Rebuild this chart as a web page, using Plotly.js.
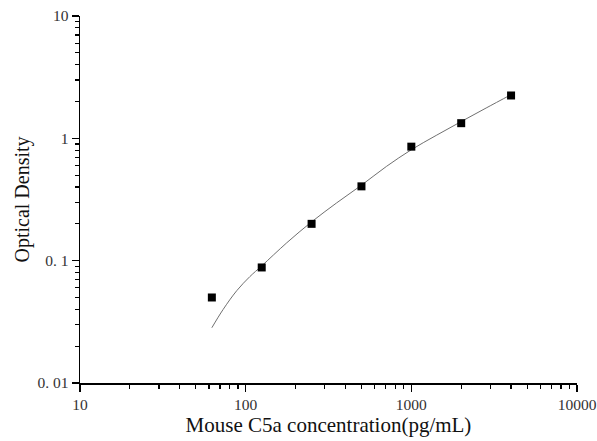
<!DOCTYPE html>
<html>
<head>
<meta charset="utf-8">
<script src="https://cdn.plot.ly/plotly-3.0.1.min.js"></script>
<style>html,body{margin:0;padding:0;background:#fff;}#chart{width:597px;height:441px;}</style>
</head>
<body>
<div id="chart"></div>
<script>
// Standard points
var concentrations = [62.5, 125, 250, 500, 1000, 2000, 4000];
var odValues = [0.050, 0.088, 0.200, 0.405, 0.855, 1.33, 2.24];

// Fitted curve
var curveX = [62.5, 73, 88.4, 106, 125, 177, 250, 354, 500, 707, 1000, 1414, 2000, 2828, 4000];
var curveY = [0.0283, 0.0398, 0.0569, 0.0741, 0.0906, 0.140, 0.2075, 0.2965, 0.414, 0.589, 0.807, 1.057, 1.371, 1.770, 2.275];

// Ticks
var xTickVals = [10, 100, 1000, 10000];
var xTickText = ['10', '100', '1000', '10000'];
var yTickVals = [0.01, 0.1, 1, 10];
var yTickText = ['0. 01', '0. 1', '1', '10'];

function minorTicks(vals) {
  var out = [];
  for (var i = 0; i < vals.length - 1; i++) {
    for (var k = 2; k <= 9; k++) out.push(vals[i] * k);
  }
  return out;
}

var font = 'Liberation Serif, Times New Roman, serif';

var traces = [
  {
    x: curveX, y: curveY, mode: 'lines', type: 'scatter',
    line: {color: '#707070', width: 1, shape: 'spline', smoothing: 1},
    hoverinfo: 'skip', showlegend: false
  },
  {
    x: concentrations, y: odValues, mode: 'markers', type: 'scatter',
    marker: {symbol: 'square', size: 8, color: '#000'},
    showlegend: false
  }
];

var axisCommon = {
  type: 'log',
  showgrid: false, zeroline: false,
  showline: true, linecolor: '#000', linewidth: 1.5,
  ticks: 'outside', ticklen: 7, tickwidth: 1.3, tickcolor: '#000',
  tickmode: 'array',
  tickfont: {family: font, size: 15.5, color: '#333'}
};

var layout = {
  width: 597, height: 441,
  margin: {l: 80, r: 20, t: 16, b: 58},
  paper_bgcolor: '#fff', plot_bgcolor: '#fff',
  showlegend: false,
  xaxis: Object.assign({}, axisCommon, {
    range: [1, 4],
    tickvals: xTickVals, ticktext: xTickText,
    minor: {tickmode: 'array', tickvals: minorTicks(xTickVals), ticks: 'outside', ticklen: 4, tickwidth: 1.2, tickcolor: '#000', showgrid: false},
    title: {text: 'Mouse C5a concentration(pg/mL)', font: {family: font, size: 21, color: '#111'}, standoff: 4}
  }),
  yaxis: Object.assign({}, axisCommon, {
    range: [-2, 1],
    tickvals: yTickVals, ticktext: yTickText,
    minor: {tickmode: 'array', tickvals: minorTicks(yTickVals), ticks: 'outside', ticklen: 4, tickwidth: 1.2, tickcolor: '#000', showgrid: false},
    title: {text: 'Optical Density', font: {family: font, size: 20, color: '#111'}, standoff: 2}
  })
};

Plotly.newPlot('chart', traces, layout, {displayModeBar: false, staticPlot: true});
</script>
</body>
</html>
